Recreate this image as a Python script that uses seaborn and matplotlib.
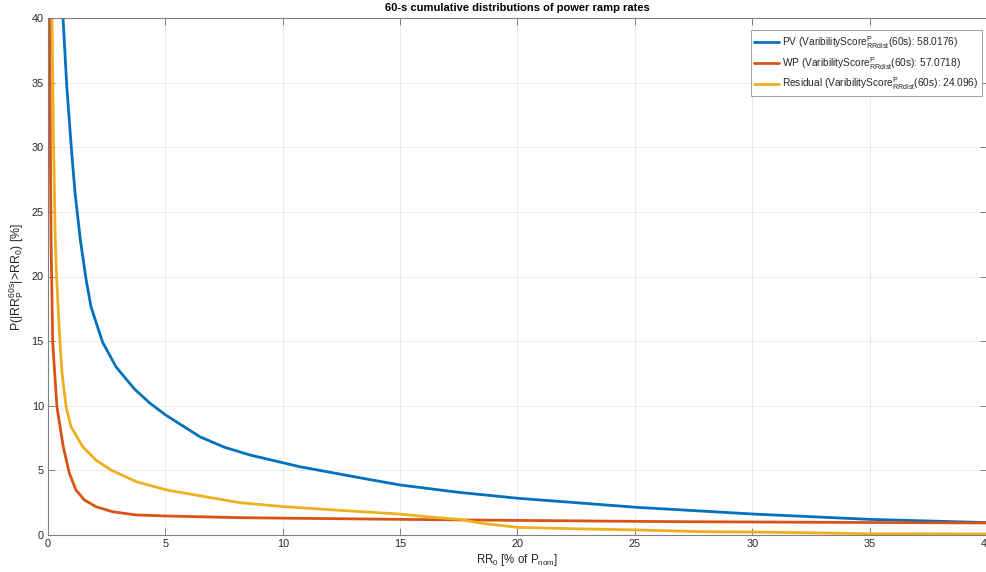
import matplotlib
matplotlib.use("Agg")
import matplotlib.pyplot as plt
import seaborn as sns
import pandas as pd

# ---- data ----
pv_x = [0.64, 0.8, 1.0, 1.15, 1.38, 1.62, 1.83, 2.33, 2.9, 3.68, 4.34, 5.0, 6.47,
        7.5, 8.6, 10.73, 13.58, 15.0, 17.5, 20.03, 22.5, 25.08, 27.77, 30.05, 35.0, 40.0]
pv_y = [40.0, 34.7, 29.8, 26.5, 22.8, 19.8, 17.66, 14.9, 13.0, 11.3, 10.2, 9.3, 7.6,
        6.8, 6.19, 5.28, 4.33, 3.87, 3.3, 2.84, 2.5, 2.14, 1.86, 1.62, 1.21, 0.96]

wp_x = [0.08, 0.1, 0.13, 0.2, 0.38, 0.65, 0.91, 1.19, 1.55, 2.04, 2.75, 3.75, 5.06, 8.18,
        15.0, 20.0, 26.9, 40.0]
wp_y = [40.0, 30.0, 22.8, 14.9, 9.93, 6.83, 4.77, 3.48, 2.71, 2.19, 1.8, 1.55, 1.47, 1.34,
        1.21, 1.13, 1.03, 0.93]

res_x = [0.17, 0.24, 0.31, 0.37, 0.51, 0.6, 0.77, 0.98, 1.48, 2.04, 2.68, 3.75, 5.06, 8.18,
         10.0, 12.5, 15.0, 16.5, 17.55, 18.5, 20.03, 22.5, 25.1, 27.8, 30.05, 35.0, 40.0]
res_y = [40.0, 30.0, 22.8, 19.8, 14.9, 12.5, 9.93, 8.38, 6.83, 5.8, 5.03, 4.13, 3.48, 2.5,
         2.2, 1.9, 1.62, 1.35, 1.21, 0.9, 0.59, 0.48, 0.39, 0.26, 0.23, 0.1, 0.08]

series_names = ["PV", "WP", "Residual"]
scores = ["58.0176", "57.0718", "24.096"]
x_ticks = [0, 5, 10, 15, 20, 25, 30, 35, 40]
y_ticks = [0, 5, 10, 15, 20, 25, 30, 35, 40]
colors = ["#0072BD", "#D95319", "#EDB120"]

sns.set_theme(style="whitegrid")
plt.rcParams["font.family"] = ["Liberation Sans", "DejaVu Sans"]
plt.rcParams["mathtext.fontset"] = "custom"
plt.rcParams["mathtext.rm"] = "Liberation Sans"
plt.rcParams["mathtext.it"] = "Liberation Sans:italic"
plt.rcParams["mathtext.bf"] = "Liberation Sans:bold"

fig = plt.figure(figsize=(9.87, 5.72), dpi=100)
ax = fig.add_axes([48 / 987, 37 / 572, 1 - 48 / 987, (535 - 18) / 572])

labels = [f"{n} (VaribilityScore$^\\mathrm{{P}}_\\mathrm{{RRdist}}$(60s): {s})"
          for n, s in zip(series_names, scores)]
for xs, ys, c, lab in zip([pv_x, wp_x, res_x], [pv_y, wp_y, res_y], colors, labels):
    df = pd.DataFrame({"x": xs, "y": ys})
    sns.lineplot(data=df, x="x", y="y", ax=ax, color=c, lw=2.0, label=lab,
                 estimator=None, sort=False)

ax.set_xlim(0, 40)
ax.set_ylim(0, 40)
ax.set_xticks(x_ticks)
ax.set_yticks(y_ticks)
ax.set_facecolor("white")
ax.grid(True, color="#262626", alpha=0.1, lw=0.6)
for sp in ax.spines.values():
    sp.set_color("#808080")
    sp.set_linewidth(0.8)
ax.tick_params(axis="both", which="both", direction="in", length=5, width=0.7,
               color="#808080", labelsize=7.8, labelcolor="#262626",
               top=True, right=True, bottom=True, left=True, pad=3)

ax.set_xlabel(r"RR$_\mathrm{0}$ [% of P$_\mathrm{nom}$]", fontsize=8.3, color="#262626",
              labelpad=2)
ax.set_ylabel(r"P(|RR$^\mathrm{60s}_\mathrm{P}$|>RR$_\mathrm{0}$) [%]", fontsize=8.9,
              color="#262626", labelpad=4)
ax.set_title("60-s cumulative distributions of power ramp rates", fontsize=8,
             fontweight="bold", color="#000000", pad=5)

leg = ax.legend(loc="upper right", bbox_to_anchor=(0.997, 0.98), fontsize=7.3,
                frameon=True, fancybox=False, framealpha=1, edgecolor="#a0a0a0",
                handlelength=2.4, borderpad=0.35, labelspacing=0.4, handletextpad=0.35,
                borderaxespad=0.2)
leg.get_frame().set_linewidth(0.7)

fig.savefig("out.png", dpi=100)
